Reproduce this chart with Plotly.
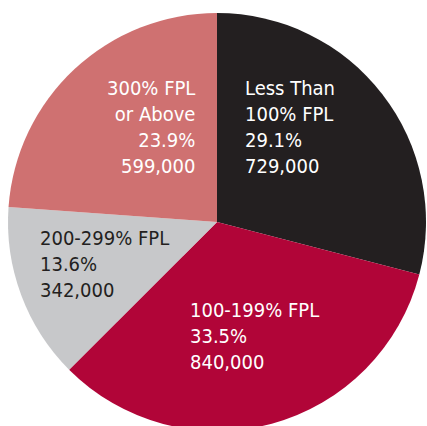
import plotly.graph_objects as go

labels = ["Less Than<br>100% FPL", "100-199% FPL", "200-299% FPL", "300% FPL<br>or Above"]
percents = ["29.1%", "33.5%", "13.6%", "23.9%"]
values = [729000, 840000, 342000, 599000]
colors = ["#231f20", "#b10538", "#c7c8ca", "#cf7171"]
text_colors = ["white", "white", "#231f20", "white"]

# the pie runs slightly past the bottom of the window in the original,
# so the figure is a bit taller than the page and the body clips it
W, H = 427, 432

fig = go.Figure(go.Pie(
    labels=labels,
    values=values,
    sort=False,
    direction="clockwise",
    rotation=0,
    marker=dict(colors=colors, line=dict(width=0)),
    textinfo="none",
    hoverinfo="label+percent+value",
    showlegend=False,
    domain=dict(x=[8 / W, 426 / W], y=[1 / H, 1 - 13 / H]),
))

# label anchor positions in pixels (x, top of first line, alignment)
label_pos = [
    (243, 74, "left"),
    (188, 296, "left"),
    (38, 224, "left"),
    (197, 74, "right"),
]

for lab, pct, val, tc, (px_, py_, al) in zip(labels, percents, values, text_colors, label_pos):
    fig.add_annotation(
        text=f"{lab}<br>{pct}<br>{val:,}",
        xref="paper", yref="paper",
        x=px_ / W, y=1 - py_ / H,
        xanchor=al, yanchor="top", align=al,
        showarrow=False,
        font=dict(family="Liberation Sans Narrow, DejaVu Sans Condensed, sans-serif",
                  size=20, color=tc),
    )

fig.update_layout(
    width=W, height=H,
    margin=dict(l=0, r=0, t=0, b=0),
    paper_bgcolor="white",
    plot_bgcolor="white",
)

fig.write_html(
    "out.html",
    config={"displayModeBar": False},
    post_script="document.body.style.margin='0';document.body.style.overflow='hidden';",
)
